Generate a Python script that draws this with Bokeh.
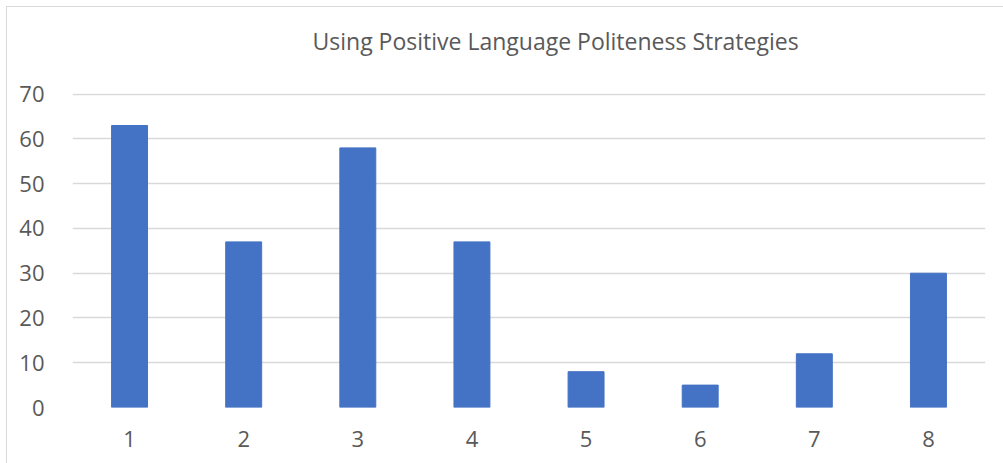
from bokeh.plotting import figure
from bokeh.embed import file_html
from bokeh.resources import INLINE
from bokeh.models import ColumnDataSource, FixedTicker, Range1d, Title

categories = [1, 2, 3, 4, 5, 6, 7, 8]
values = [63, 37, 58, 37, 8, 5, 12, 30]
y_ticks = [0, 10, 20, 30, 40, 50, 60, 70]
title_text = "Using Positive Language Politeness Strategies"

FONT = "Open Sans"
GRAY_TXT = "#595959"
GRID = "#d9d9d9"

src = ColumnDataSource(dict(x=categories, top=values))

p = figure(width=997, height=457, output_backend="svg", toolbar_location=None,
           x_range=Range1d(0.5, 8.5), y_range=Range1d(0, 70.15),
           min_border_left=65, min_border_right=19, min_border_top=86, min_border_bottom=57)
p.styles = {"margin-left": "6px", "margin-top": "6px",
            "border-left": "1px solid #d9d9d9", "border-top": "1px solid #d9d9d9"}
p.outline_line_color = None
p.vbar(x="x", top="top", width=0.315, source=src, fill_color="#4472C4", line_color="#4472C4")

spacer = Title(text=" ", text_font_size="15px", text_font=FONT)
p.add_layout(spacer, "above")
t = Title(text=title_text, align="left", offset=240, text_font=FONT,
          text_font_size="23px", text_font_style="normal", text_color=GRAY_TXT)
p.add_layout(t, "above")

p.xgrid.grid_line_color = None
p.ygrid.grid_line_color = GRID
p.ygrid.grid_line_width = 1.5
p.ygrid.ticker = FixedTicker(ticks=y_ticks)

p.yaxis.ticker = FixedTicker(ticks=y_ticks)
p.xaxis.ticker = FixedTicker(ticks=categories)
for ax in (p.xaxis, p.yaxis):
    ax.axis_line_color = None
    ax.major_tick_line_color = None
    ax.minor_tick_line_color = None
    ax.major_label_text_font = FONT
    ax.major_label_text_font_size = "22px"
    ax.major_label_text_color = GRAY_TXT
p.yaxis.major_label_standoff = 22
p.xaxis.major_label_standoff = 17

open("out.html", "w").write(file_html(p, INLINE))
